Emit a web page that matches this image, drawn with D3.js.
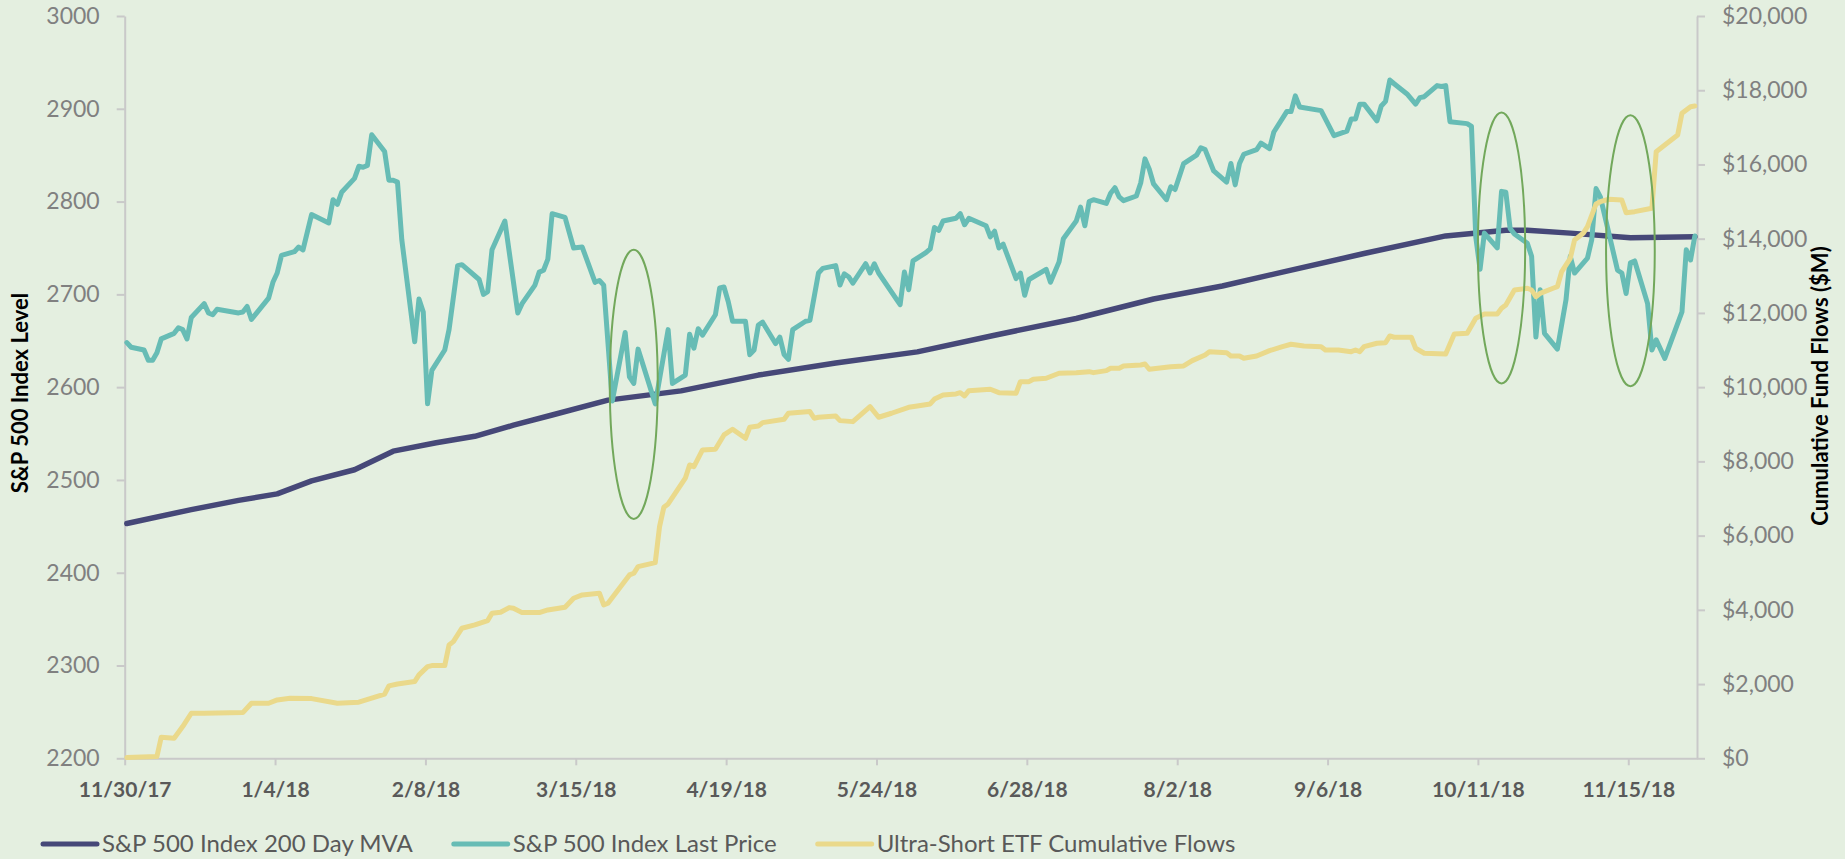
<!DOCTYPE html>
<html>
<head>
<meta charset="utf-8">
<script src="https://cdn.jsdelivr.net/npm/d3@7"></script>
<style>
  body { margin: 0; background: #e4efe0; }
  svg { display: block; }
  text { font-family: Lato, "Open Sans", sans-serif; }
</style>
</head>
<body>
<svg id="chart"></svg>
<script>
// axis ranges and ticks
const axisStart = "2017-11-30";
const axisEnd = "2018-12-01";
const xTickDates = ["2017-11-30", "2018-01-04", "2018-02-08", "2018-03-15", "2018-04-19", "2018-05-24",
  "2018-06-28", "2018-08-02", "2018-09-06", "2018-10-11", "2018-11-15"];
const leftTicks = [2200, 2300, 2400, 2500, 2600, 2700, 2800, 2900, 3000];
const rightTicks = [0, 2000, 4000, 6000, 8000, 10000, 12000, 14000, 16000, 18000, 20000];

const seriesNames = ["S&P 500 Index 200 Day MVA", "S&P 500 Index Last Price", "Ultra-Short ETF Cumulative Flows"];

// S&P 500 200 day moving average
const mvaDates = ["2017-11-30", "2017-12-15", "2017-12-26", "2018-01-04", "2018-01-12", "2018-01-22", "2018-01-31",
  "2018-02-10", "2018-02-19", "2018-02-28", "2018-03-09", "2018-03-22", "2018-04-08", "2018-04-26", "2018-05-14",
  "2018-06-02", "2018-06-20", "2018-07-09", "2018-07-27", "2018-08-12", "2018-08-26", "2018-09-14", "2018-10-03",
  "2018-10-17", "2018-10-22", "2018-11-01", "2018-11-15", "2018-11-30"];
const mvaValues = [2453, 2468, 2478, 2485, 2499, 2511, 2531, 2540, 2547, 2559, 2570, 2586, 2596, 2613, 2626,
  2638, 2656, 2674, 2695, 2709, 2724, 2744, 2763, 2769, 2769, 2766, 2761, 2762];

// S&P 500 last price
const priceDates = ["2017-11-30", "2017-12-01", "2017-12-04", "2017-12-05", "2017-12-06", "2017-12-07", "2017-12-08",
  "2017-12-11", "2017-12-12", "2017-12-13", "2017-12-14", "2017-12-15", "2017-12-18", "2017-12-19", "2017-12-20",
  "2017-12-21", "2017-12-26", "2017-12-27", "2017-12-28", "2017-12-29", "2018-01-02", "2018-01-03", "2018-01-04",
  "2018-01-05", "2018-01-08", "2018-01-09", "2018-01-10", "2018-01-12", "2018-01-16", "2018-01-17", "2018-01-18",
  "2018-01-19", "2018-01-22", "2018-01-23", "2018-01-24", "2018-01-25", "2018-01-26", "2018-01-29", "2018-01-30",
  "2018-01-31", "2018-02-01", "2018-02-02", "2018-02-05", "2018-02-06", "2018-02-07", "2018-02-08", "2018-02-09",
  "2018-02-12", "2018-02-13", "2018-02-15", "2018-02-16", "2018-02-20", "2018-02-21", "2018-02-22", "2018-02-23",
  "2018-02-26", "2018-03-01", "2018-03-02", "2018-03-05", "2018-03-06", "2018-03-07", "2018-03-08", "2018-03-09",
  "2018-03-12", "2018-03-14", "2018-03-16", "2018-03-19", "2018-03-20", "2018-03-21", "2018-03-23", "2018-03-26",
  "2018-03-27", "2018-03-28", "2018-03-29", "2018-04-02", "2018-04-05", "2018-04-06", "2018-04-09", "2018-04-10",
  "2018-04-11", "2018-04-12", "2018-04-13", "2018-04-16", "2018-04-17", "2018-04-18", "2018-04-19", "2018-04-20",
  "2018-04-23", "2018-04-24", "2018-04-25", "2018-04-26", "2018-04-27", "2018-04-30", "2018-05-01", "2018-05-02",
  "2018-05-03", "2018-05-04", "2018-05-07", "2018-05-08", "2018-05-10", "2018-05-11", "2018-05-14", "2018-05-15",
  "2018-05-16", "2018-05-17", "2018-05-18", "2018-05-21", "2018-05-22", "2018-05-23", "2018-05-24", "2018-05-29",
  "2018-05-30", "2018-05-31", "2018-06-01", "2018-06-04", "2018-06-05", "2018-06-06", "2018-06-07", "2018-06-08",
  "2018-06-11", "2018-06-12", "2018-06-13", "2018-06-14", "2018-06-18", "2018-06-19", "2018-06-20", "2018-06-21",
  "2018-06-22", "2018-06-25", "2018-06-26", "2018-06-27", "2018-06-28", "2018-07-02", "2018-07-03", "2018-07-05",
  "2018-07-06", "2018-07-09", "2018-07-10", "2018-07-11", "2018-07-12", "2018-07-13", "2018-07-16", "2018-07-17",
  "2018-07-18", "2018-07-19", "2018-07-20", "2018-07-23", "2018-07-24", "2018-07-25", "2018-07-26", "2018-07-27",
  "2018-07-30", "2018-07-31", "2018-08-01", "2018-08-03", "2018-08-06", "2018-08-07", "2018-08-08", "2018-08-10",
  "2018-08-13", "2018-08-14", "2018-08-15", "2018-08-16", "2018-08-17", "2018-08-20", "2018-08-21", "2018-08-23",
  "2018-08-24", "2018-08-27", "2018-08-28", "2018-08-29", "2018-08-30", "2018-09-04", "2018-09-07", "2018-09-10",
  "2018-09-11", "2018-09-12", "2018-09-13", "2018-09-14", "2018-09-17", "2018-09-18", "2018-09-19", "2018-09-20",
  "2018-09-21", "2018-09-24", "2018-09-26", "2018-09-27", "2018-09-28", "2018-10-01", "2018-10-02", "2018-10-03",
  "2018-10-04", "2018-10-08", "2018-10-09", "2018-10-10", "2018-10-11", "2018-10-12", "2018-10-15", "2018-10-16",
  "2018-10-17", "2018-10-18", "2018-10-19", "2018-10-22", "2018-10-23", "2018-10-24", "2018-10-25", "2018-10-26",
  "2018-10-29", "2018-10-31", "2018-11-01", "2018-11-02", "2018-11-05", "2018-11-06", "2018-11-07", "2018-11-08",
  "2018-11-12", "2018-11-13", "2018-11-14", "2018-11-15", "2018-11-16", "2018-11-19", "2018-11-20", "2018-11-21",
  "2018-11-23", "2018-11-27", "2018-11-28", "2018-11-29", "2018-11-30"];
const priceValues = [2648, 2643, 2640, 2629, 2629, 2637, 2652,
  2658, 2664, 2662, 2652, 2675, 2690, 2680, 2678,
  2684, 2680, 2681, 2687, 2673, 2696, 2713, 2723,
  2742, 2746, 2751, 2748, 2786, 2777, 2802, 2797,
  2810, 2825, 2838, 2837, 2839, 2872, 2854, 2823,
  2823, 2821, 2759, 2649, 2695, 2681, 2582, 2618,
  2640, 2662, 2731, 2732, 2716, 2700, 2703, 2748,
  2779, 2680, 2690, 2710, 2724, 2726, 2738, 2787,
  2783, 2750, 2751, 2713, 2715, 2710, 2585, 2659,
  2611, 2604, 2641, 2582, 2662, 2604, 2613, 2657,
  2642, 2663, 2656, 2678, 2707, 2708, 2692, 2671,
  2671, 2635, 2640, 2667, 2670, 2647, 2654, 2635,
  2630, 2662, 2671, 2672, 2723, 2728, 2731, 2710,
  2722, 2719, 2712, 2733, 2723, 2733, 2723, 2689,
  2724, 2705, 2736, 2745, 2749, 2772, 2769, 2779,
  2782, 2787, 2775, 2782, 2774, 2762, 2768, 2750,
  2754, 2717, 2723, 2699, 2716, 2727, 2713, 2735,
  2760, 2779, 2794, 2774, 2800, 2802, 2798, 2809,
  2815, 2805, 2801, 2806, 2820, 2846, 2835, 2819,
  2802, 2816, 2813, 2841, 2850, 2858, 2856, 2833,
  2821, 2841, 2818, 2841, 2851, 2856, 2863, 2857,
  2875, 2897, 2897, 2914, 2902, 2898, 2871, 2876,
  2889, 2889, 2905, 2905, 2887, 2903, 2908, 2931,
  2927, 2916, 2905, 2912, 2913, 2925, 2924, 2925,
  2886, 2884, 2881, 2762, 2727, 2766, 2750, 2811,
  2810, 2771, 2765, 2755, 2741, 2654, 2705, 2658,
  2641, 2694, 2741, 2723, 2739, 2759, 2814, 2805,
  2726, 2723, 2701, 2734, 2736, 2690, 2640, 2651,
  2631, 2681, 2748, 2737, 2763];

// ultra-short ETF cumulative flows, $M
const flowDates = ["2017-11-30", "2017-12-07", "2017-12-08", "2017-12-11", "2017-12-13", "2017-12-15", "2017-12-18",
  "2017-12-27", "2017-12-29", "2018-01-02", "2018-01-04", "2018-01-07", "2018-01-12", "2018-01-18", "2018-01-23",
  "2018-01-26", "2018-01-29", "2018-01-30", "2018-02-01", "2018-02-05", "2018-02-06", "2018-02-08", "2018-02-09",
  "2018-02-12", "2018-02-13", "2018-02-14", "2018-02-16", "2018-02-19", "2018-02-22", "2018-02-23", "2018-02-25",
  "2018-02-27", "2018-02-28", "2018-03-02", "2018-03-06", "2018-03-08", "2018-03-12", "2018-03-14", "2018-03-16",
  "2018-03-20", "2018-03-21", "2018-03-22", "2018-03-27", "2018-03-28", "2018-03-29", "2018-04-02", "2018-04-03",
  "2018-04-04", "2018-04-05", "2018-04-09", "2018-04-10", "2018-04-11", "2018-04-13", "2018-04-16", "2018-04-18",
  "2018-04-20", "2018-04-23", "2018-04-24", "2018-04-26", "2018-04-27", "2018-05-02", "2018-05-03", "2018-05-08",
  "2018-05-09", "2018-05-10", "2018-05-14", "2018-05-15", "2018-05-18", "2018-05-22", "2018-05-24", "2018-05-27",
  "2018-05-31", "2018-06-02", "2018-06-05", "2018-06-06", "2018-06-08", "2018-06-11", "2018-06-12", "2018-06-13",
  "2018-06-14", "2018-06-19", "2018-06-21", "2018-06-25", "2018-06-26", "2018-06-28", "2018-06-29", "2018-07-02",
  "2018-07-05", "2018-07-09", "2018-07-12", "2018-07-13", "2018-07-16", "2018-07-17", "2018-07-19", "2018-07-20",
  "2018-07-24", "2018-07-25", "2018-07-26", "2018-07-31", "2018-08-03", "2018-08-05", "2018-08-08", "2018-08-09",
  "2018-08-13", "2018-08-14", "2018-08-16", "2018-08-17", "2018-08-20", "2018-08-23", "2018-08-26", "2018-08-28",
  "2018-08-31", "2018-09-04", "2018-09-05", "2018-09-08", "2018-09-11", "2018-09-12", "2018-09-13", "2018-09-14",
  "2018-09-17", "2018-09-19", "2018-09-20", "2018-09-21", "2018-09-25", "2018-09-26", "2018-09-28", "2018-10-03",
  "2018-10-05", "2018-10-08", "2018-10-10", "2018-10-12", "2018-10-15", "2018-10-16", "2018-10-17", "2018-10-19",
  "2018-10-22", "2018-10-23", "2018-10-24", "2018-10-25", "2018-10-28", "2018-10-29", "2018-10-30", "2018-11-01",
  "2018-11-02", "2018-11-04", "2018-11-05", "2018-11-07", "2018-11-08", "2018-11-10", "2018-11-13", "2018-11-14",
  "2018-11-16", "2018-11-20", "2018-11-21", "2018-11-23", "2018-11-26", "2018-11-27", "2018-11-29", "2018-11-30"];
const flowValues = [20, 50, 568, 541, 854, 1214, 1214,
  1231, 1484, 1484, 1573, 1619, 1608, 1484, 1511,
  1619, 1727, 1951, 2000, 2067, 2247, 2470, 2497,
  2497, 3055, 3144, 3505, 3594, 3710, 3909, 3936,
  4060, 4043, 3925, 3925, 3998, 4070, 4313, 4402,
  4448, 4132, 4177, 4940, 4985, 5164, 5272, 6242,
  6764, 6853, 7546, 7904, 7859, 8308, 8327, 8712,
  8866, 8623, 8919, 8955, 9044, 9135, 9297, 9341,
  9162, 9189, 9224, 9098, 9071, 9475, 9189, 9297,
  9458, 9493, 9547, 9680, 9790, 9817, 9852, 9763,
  9906, 9943, 9852, 9836, 10148, 10148, 10213, 10240,
  10375, 10391, 10418, 10391, 10445, 10510, 10510, 10570,
  10598, 10625, 10482, 10552, 10570, 10714, 10867, 10956,
  10930, 10840, 10840, 10778, 10840, 10983, 11091, 11156,
  11110, 11091, 11002, 11002, 10956, 11002, 10956, 11091,
  11183, 11199, 11379, 11344, 11344, 11048, 10913, 10894,
  11433, 11452, 11856, 11972, 11972, 12125, 12214, 12618,
  12664, 12618, 12438, 12528, 12664, 12707, 13112, 13472,
  13966, 14146, 14324, 14935, 14997, 15062, 15043, 14701,
  14728, 14820, 16344, 16525, 16794, 17379, 17557, 17575];

// green ovals drawn over the chart: centre date/level and half sizes
const ovalDates = ["2018-03-28", "2018-10-16", "2018-11-15"];
const ovalLevels = [2603, 2750, 2747];
const ovalHalfDays = [5.6, 5.5, 5.7];
const ovalHalfPoints = [145, 146, 146];

const width = 1845;
const height = 859;
const colors = ["#464878", "#67bcb5", "#ead98b"];
const lineWidths = [5.5, 5, 5];

const parseDate = d3.utcParse("%Y-%m-%d");

function toPoints(dates, values) {
  return dates.map((d, i) => ({ date: parseDate(d), value: values[i] }));
}

const svg = d3.select("#chart").attr("width", width).attr("height", height);
svg.append("rect").attr("width", width).attr("height", height).attr("fill", "#e4efe0");

// scales
const x = d3.scaleUtc().domain([parseDate(axisStart), parseDate(axisEnd)]).range([124.7, 1697]);
const yLeft = d3.scaleLinear().domain([2200, 3000]).range([758.3, 16]);
const yRight = d3.scaleLinear().domain([0, 20000]).range([758.3, 16]);

// each point sits in the middle of its day
const xPos = d => x(d3.utcHour.offset(d, 12));

function styleAxis(g) {
  g.select(".domain").attr("stroke", "#c9c9c9").attr("stroke-width", 2);
  g.selectAll(".tick line").attr("stroke", "#c9c9c9").attr("stroke-width", 2);
}

// axes
const xAxis = svg.append("g")
  .attr("transform", `translate(0,${yLeft.range()[0]})`)
  .call(d3.axisBottom(x)
    .tickValues(xTickDates.map(parseDate))
    .tickFormat(d3.utcFormat("%-m/%-d/%y"))
    .tickSize(7).tickSizeOuter(0).tickPadding(17))
  .call(styleAxis);
xAxis.selectAll("text")
  .attr("fill", "#595959").attr("font-size", 21).attr("font-weight", "bold")
  .style("font-family", "Lato, sans-serif");

const leftAxis = svg.append("g")
  .attr("transform", `translate(${x.range()[0]},0)`)
  .call(d3.axisLeft(yLeft).tickValues(leftTicks).tickFormat(d3.format("d"))
    .tickSize(8).tickSizeOuter(0).tickPadding(17))
  .call(styleAxis);
leftAxis.selectAll("text").attr("fill", "#808080").attr("font-size", 23).style("font-family", "Lato, sans-serif");

const rightAxis = svg.append("g")
  .attr("transform", `translate(${x.range()[1]},0)`)
  .call(d3.axisRight(yRight).tickValues(rightTicks).tickFormat(d => "$" + d3.format(",")(d))
    .tickSize(8).tickSizeOuter(0).tickPadding(17))
  .call(styleAxis);
rightAxis.selectAll("text").attr("fill", "#808080").attr("font-size", 23).style("font-family", "Lato, sans-serif");

// axis titles
svg.append("text")
  .attr("transform", "translate(28,393) rotate(-90)")
  .attr("text-anchor", "middle")
  .attr("font-size", 22).attr("font-weight", "bold").attr("fill", "#000")
  .text("S&P 500 Index Level");

svg.append("text")
  .attr("transform", "translate(1828,386) rotate(-90)")
  .attr("text-anchor", "middle")
  .attr("font-size", 22).attr("font-weight", "bold").attr("fill", "#000")
  .text("Cumulative Fund Flows ($M)");

// lines
const leftLine = d3.line().x(d => xPos(d.date)).y(d => yLeft(d.value));
const rightLine = d3.line().x(d => xPos(d.date)).y(d => yRight(d.value));

const series = [
  { points: toPoints(mvaDates, mvaValues), line: leftLine },
  { points: toPoints(priceDates, priceValues), line: leftLine },
  { points: toPoints(flowDates, flowValues), line: rightLine }
];

series.forEach((s, i) => {
  svg.append("path")
    .attr("d", s.line(s.points))
    .attr("fill", "none")
    .attr("stroke", colors[i])
    .attr("stroke-width", lineWidths[i])
    .attr("stroke-linejoin", "round")
    .attr("stroke-linecap", "round");
});

// ovals
ovalDates.forEach((d, i) => {
  const date = parseDate(d);
  const cx = xPos(date);
  const cy = yLeft(ovalLevels[i]);
  const rx = x(d3.utcHour.offset(date, 12 + ovalHalfDays[i] * 24)) - cx;
  const ry = yLeft(ovalLevels[i] - ovalHalfPoints[i]) - cy;
  svg.append("ellipse")
    .attr("cx", cx).attr("cy", cy).attr("rx", rx).attr("ry", ry)
    .attr("fill", "none").attr("stroke", "#72a85b").attr("stroke-width", 2);
});

// legend
const legend = svg.append("g").attr("transform", "translate(0,844)");
let legendX = 43;
seriesNames.forEach((name, i) => {
  legend.append("line")
    .attr("x1", legendX).attr("x2", legendX + 54)
    .attr("stroke", colors[i]).attr("stroke-width", 5).attr("stroke-linecap", "round");
  const label = legend.append("text")
    .attr("x", legendX + 59).attr("dy", "0.35em")
    .attr("font-size", 24).attr("fill", "#595959")
    .text(name);
  legendX += 59 + label.node().getComputedTextLength() + 41;
});
</script>
</body>
</html>
